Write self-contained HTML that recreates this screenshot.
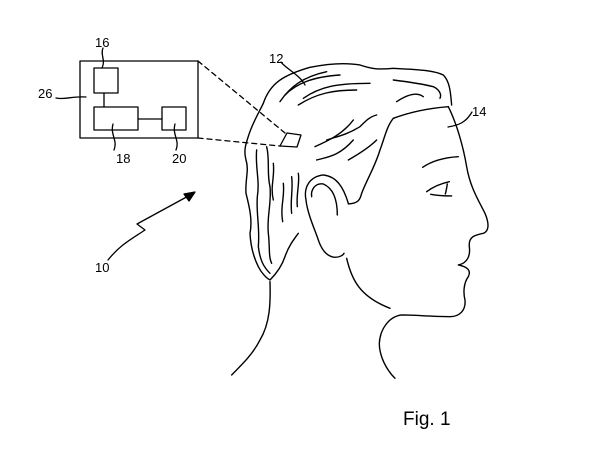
<!DOCTYPE html>
<html><head><meta charset="utf-8"><style>
html,body{margin:0;padding:0;background:#fff;}
svg{display:block}
text{font-family:"Liberation Sans",sans-serif;fill:#000}
</style></head><body>
<svg width="600" height="450" viewBox="0 0 600 450" xmlns="http://www.w3.org/2000/svg">
<g fill="none" stroke="#000" stroke-width="1.3" stroke-linecap="round" stroke-linejoin="round">
<rect x="80" y="61" width="118" height="77"/>
<rect x="94" y="68" width="24" height="25"/>
<rect x="94" y="107" width="44" height="23"/>
<rect x="162" y="107" width="24" height="23"/>
<line x1="104" y1="93" x2="104" y2="107"/>
<line x1="138" y1="119" x2="162" y2="119"/>
<line x1="198" y1="61" x2="285" y2="133" stroke-dasharray="5,4"/>
<line x1="198" y1="138" x2="280" y2="146" stroke-dasharray="5,4"/>
<path d="M287,133 L301,135 L297,147 L280,146 Z"/>
<!-- leaders -->
<path d="M103,48 C100,55 106,60 102,68"/>
<path d="M56,98 C65,100 72,96 86,97"/>
<path d="M113,124 C110,135 118,140 114,150"/>
<path d="M175,124 C172,135 180,140 176,150"/>
<path d="M108,260 C120,245 130,240 145,230 L137,224 L192,194"/>
<path d="M195,192 L184,194 L189,201 Z" fill="#000"/>
<path d="M281,62 C285,68 300,75 305,85"/>
<path d="M472,112 C466,122 460,125 448,127"/>
</g>
<g transform="translate(220,40) scale(0.3333)" fill="none" stroke="#000" stroke-width="4.2" stroke-linecap="round" stroke-linejoin="round">
<!-- top hair outline -->
<path d="M130,190 C150,130 190,105 270,82 C330,70 380,68 420,75 C450,85 470,90 520,85 C580,88 640,90 670,105 C690,125 692,160 695,195"/>
<!-- back hair -->
<path d="M130,190 C118,215 100,245 88,280 C78,310 70,330 78,360 C88,390 75,420 78,460 C88,500 98,540 90,580 C92,620 100,650 115,680 C125,700 140,715 150,720 C165,705 185,680 195,650 C205,620 220,600 235,580"/>
<path d="M110,330 C105,380 120,420 112,470 C108,520 120,560 115,620 C120,660 130,680 150,700"/>
<path d="M140,320 C150,360 140,400 150,440 C155,490 140,530 145,580 C150,620 145,650 155,670"/>
<path d="M160,370 C165,410 150,440 160,480"/>
<path d="M190,430 C195,470 180,500 188,545"/>
<path d="M215,410 C220,450 210,480 215,520"/>
<path d="M235,400 C240,430 228,460 232,500"/>
<!-- neck back -->
<path d="M150,725 C152,790 150,850 120,900 C100,940 70,970 35,1005"/>
<!-- hair strands top -->
<path d="M180,185 C210,140 250,110 320,95"/>
<path d="M195,165 C230,130 280,110 360,105"/>
<path d="M235,195 C290,160 340,150 410,150"/>
<path d="M250,175 C300,140 350,130 450,130"/>
<path d="M520,120 C560,125 600,130 640,140 C660,150 665,165 660,175"/>
<path d="M530,185 C560,165 590,155 610,170"/>
<path d="M285,320 C330,300 370,280 400,240"/>
<path d="M320,300 C350,290 380,285 420,260 C440,240 450,230 470,225"/>
<path d="M385,360 C420,340 450,320 470,300"/>
<path d="M290,360 C330,350 360,345 400,300"/>
<!-- hairline front & temple -->
<path d="M520,235 C560,220 620,205 685,200"/>
<path d="M520,235 C500,260 495,290 480,330 C465,380 440,420 425,460 C420,480 415,490 385,492"/>
<!-- face -->
<path d="M685,200 C710,250 730,320 740,380 C750,440 775,480 795,520 C810,555 805,575 790,580 C765,585 745,590 748,620 C752,650 740,670 715,675 C740,680 755,690 745,710 C730,730 730,760 735,780 C738,810 720,830 690,830 C640,830 580,825 545,825 C505,830 480,870 478,910 C478,950 500,990 525,1015"/>
<!-- jaw -->
<path d="M380,655 C395,720 420,770 510,805"/>
<!-- ear -->
<path d="M385,490 C370,440 350,410 310,405 C270,410 250,440 258,480 C262,520 285,570 295,600 C305,630 320,650 345,652 C360,652 370,645 372,640"/>
<path d="M352,525 C352,480 340,445 310,432 C285,428 272,450 275,470"/>
<!-- eyebrow & eye -->
<path d="M608,382 C640,360 680,352 715,350"/>
<path d="M620,455 C640,440 665,430 688,425"/>
<path d="M632,463 C660,468 680,468 695,468"/>
<path d="M682,432 C680,445 678,455 676,462"/>
</g>
<g font-size="13">
<text x="95" y="47">16</text>
<text x="38" y="98">26</text>
<text x="116" y="163">18</text>
<text x="172" y="163">20</text>
<text x="95" y="272">10</text>
<text x="269" y="63">12</text>
<text x="472" y="116">14</text>
</g>
<text x="403" y="425" font-size="19">Fig. 1</text>
</svg>
</body></html>
